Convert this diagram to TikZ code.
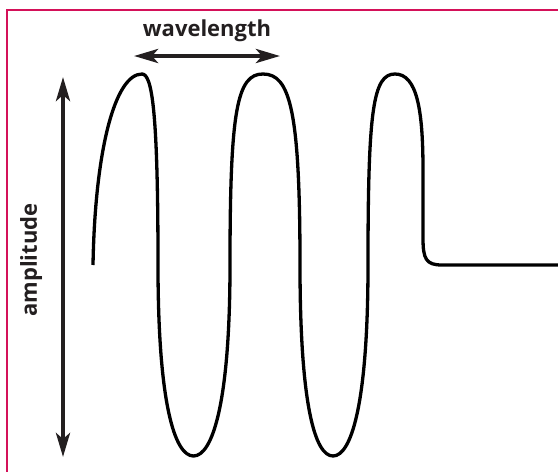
\documentclass[tikz,border=0pt]{standalone}
\usepackage{fontspec}
\setmainfont{Open Sans}
\usetikzlibrary{arrows.meta}
\definecolor{framecol}{RGB}{212,17,89}
\definecolor{inkcol}{RGB}{35,31,32}
\tikzset{
  frameline/.style={draw=framecol, line width=2.5pt},
  wave/.style={draw=black, line width=3.3pt, line join=round},
  dimarrow/.style={draw=inkcol, line width=4pt, {Stealth[length=24pt,width=14pt,inset=6pt]}-{Stealth[length=24pt,width=14pt,inset=6pt]}},
  lbl/.style={text=inkcol, font=\bfseries\fontsize{22}{25}\selectfont, inner sep=0pt}
}
\begin{document}
\begin{tikzpicture}[x=1pt,y=-1pt]
\useasboundingbox (0,0) rectangle (558,472);
% frame
\draw[frameline] (7,473) -- (7,10) -- (559,10);
% wave
\draw[wave] (93,265)
  .. controls (95,150) and (115,74) .. (142,74)
  .. controls (152,74) and (158,110) .. (158,265)
  .. controls (158,405) and (175,456) .. (193.5,456)
  .. controls (212,456) and (230,405) .. (230,265)
  .. controls (230,110) and (237,74) .. (263,74)
  .. controls (290,74) and (300,110) .. (300,265)
  .. controls (300,405) and (315,456) .. (333,456)
  .. controls (351,456) and (368,405) .. (368,265)
  .. controls (368,110) and (373,74) .. (395,74)
  .. controls (417,74) and (423,110) .. (423,170)
  -- (423,238)
  .. controls (423,259) and (426,265) .. (442,265)
  -- (559,265);
% arrows
\coordinate (wlL) at (134,56);
\coordinate (wlR) at (280,56);
\coordinate (ampT) at (63,77);
\coordinate (ampB) at (63,457);
\draw[dimarrow] (wlL) -- (wlR);
\draw[dimarrow] (ampT) -- (ampB);
% labels
\node[lbl, anchor=base] (wltext) at (207,36.5) {wavelength};
\node[lbl, anchor=base, rotate=90] (amptext) at (37,260) {amplitude};
\end{tikzpicture}
\end{document}
